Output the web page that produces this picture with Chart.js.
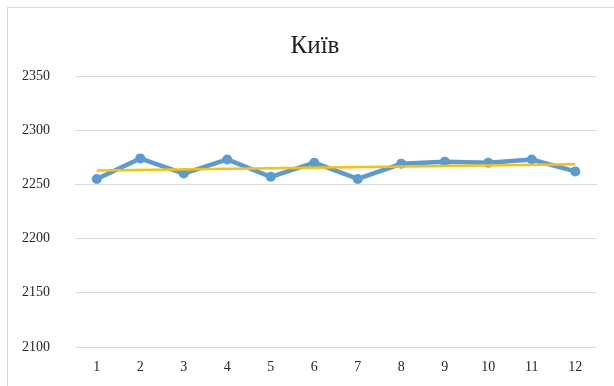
<!DOCTYPE html>
<html>
<head>
<meta charset="utf-8">
<script src="https://cdn.jsdelivr.net/npm/chart.js@4/dist/chart.umd.min.js"></script>
<style>
  html, body { margin: 0; padding: 0; background: #ffffff; }
  #wrap { position: relative; width: 614px; height: 386px; overflow: hidden; }
</style>
</head>
<body>
<div id="wrap"><canvas id="c" width="614" height="386"></canvas></div>
<script>
// Monthly values for Kyiv
const months = ['1', '2', '3', '4', '5', '6', '7', '8', '9', '10', '11', '12'];
const kyivValues = [2255, 2274, 2260, 2273, 2257, 2270, 2255, 2269, 2271, 2270, 2273, 2262];
// Linear trend line end points (first and last month)
const trendEnds = [2262.8, 2268.6];
const yTicks = [2100, 2150, 2200, 2250, 2300, 2350];
const chartTitle = 'Київ';

const trendData = months.map((_, i) =>
  i === 0 ? trendEnds[0] : (i === months.length - 1 ? trendEnds[1] : null));

const FONT = "'Liberation Serif', 'Times New Roman', serif";

// Outer frame and centered title
const framePlugin = {
  id: 'frame',
  beforeDraw(chart) {
    const ctx = chart.ctx;
    ctx.save();
    ctx.fillStyle = '#ffffff';
    ctx.fillRect(0, 0, chart.width, chart.height);
    ctx.strokeStyle = '#d9d9d9';
    ctx.lineWidth = 1;
    ctx.strokeRect(7.5, 7.5, 616, 420);
    ctx.restore();
  },
  afterDraw(chart) {
    const ctx = chart.ctx;
    ctx.save();
    ctx.fillStyle = '#1f1f1f';
    ctx.font = '25px ' + FONT;
    ctx.textAlign = 'center';
    ctx.textBaseline = 'alphabetic';
    ctx.fillText(chartTitle, 315, 53);
    ctx.restore();
  }
};

new Chart(document.getElementById('c'), {
  type: 'line',
  data: {
    labels: months,
    datasets: [
      {
        label: 'trend',
        data: trendData,
        spanGaps: true,
        borderColor: '#FFC000',
        borderWidth: 2.5,
        pointRadius: 0,
        tension: 0,
        order: 0
      },
      {
        label: chartTitle,
        data: kyivValues,
        borderColor: '#5B9BD5',
        backgroundColor: '#5B9BD5',
        borderWidth: 4.5,
        pointRadius: 5,
        pointBorderWidth: 0,
        pointBackgroundColor: '#5B9BD5',
        tension: 0,
        order: 1
      }
    ]
  },
  options: {
    responsive: false,
    animation: false,
    devicePixelRatio: 1,
    layout: { padding: { top: 76, right: 17, left: 0, bottom: 0 } },
    plugins: {
      legend: { display: false },
      title: { display: false },
      tooltip: { enabled: false }
    },
    scales: {
      x: {
        offset: true,
        grid: { display: false, drawTicks: false },
        border: { display: false },
        ticks: { color: '#262626', font: { family: FONT, size: 14 }, padding: 12, maxRotation: 0 },
        afterFit(scale) { scale.height = 39; }
      },
      y: {
        min: yTicks[0],
        max: yTicks[yTicks.length - 1],
        afterBuildTicks(scale) { scale.ticks = yTicks.map(v => ({ value: v })); },
        grid: { color: '#d9d9d9', lineWidth: 1, drawTicks: false },
        border: { display: false },
        ticks: {
          color: '#262626',
          font: { family: FONT, size: 14 },
          padding: 25,
          callback: (v) => String(v)
        },
        afterFit(scale) { scale.width = 75; }
      }
    }
  },
  plugins: [framePlugin]
});
</script>
</body>
</html>
